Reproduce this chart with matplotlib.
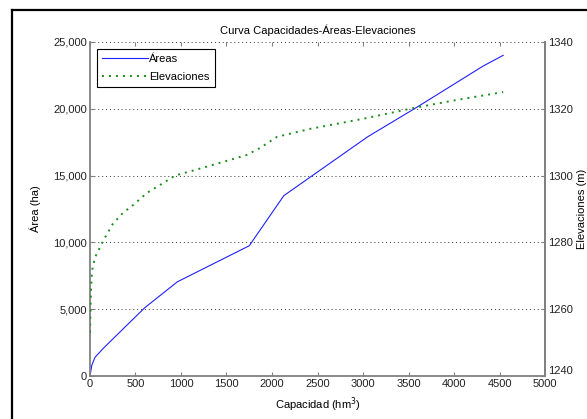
import matplotlib
matplotlib.use("Agg")
import matplotlib.pyplot as plt
from matplotlib.lines import Line2D
from matplotlib.ticker import FuncFormatter

plt.rcParams["font.family"] = ["Liberation Sans", "DejaVu Sans"]
plt.rcParams["font.size"] = 8

# capacity (hm3) vs flooded area (ha)
cap_area = [0, 20, 55, 150, 600, 960, 1750, 2130, 3050, 3600, 4320, 4540]
area = [0, 800, 1400, 2100, 5100, 7050, 9750, 13500, 17900, 20150, 23200, 24000]

# capacity (hm3) vs water elevation (m)
cap_elev = [0, 10, 22, 55, 110, 145, 250, 360, 475, 625, 770, 935, 1300,
            1725, 1870, 2055, 2420, 3000, 3550, 4000, 4540]
elev = [1253, 1265, 1271.5, 1275.5, 1278.5, 1280.5, 1285.5, 1288.8, 1291.2,
        1294.8, 1297.2, 1300, 1302.8, 1306.2, 1308.3, 1311.6, 1314, 1317,
        1320.2, 1322.5, 1325]

x_ticks = [0, 500, 1000, 1500, 2000, 2500, 3000, 3500, 4000, 4500, 5000]
area_ticks = [0, 5000, 10000, 15000, 20000, 25000]
elev_ticks = [1240, 1260, 1280, 1300, 1320, 1340]

spine_col = "#808080"

fig = plt.figure(figsize=(5.87, 4.19), dpi=100)
ax = fig.add_axes([0.1533, 0.1026, 0.7752, 0.7972])
ax2 = ax.twinx()

h1, = ax.plot(cap_area, area, color="#2020ff", lw=0.8)
h2, = ax2.plot(cap_elev, elev, color="#1a8c1a", lw=1.4, ls=(0, (1, 2.6)))

ax.set_xlim(0, 5000)
ax.set_ylim(0, 25000)
ax2.set_ylim(1240, 1340)
ax.set_xticks(x_ticks)
ax.set_yticks(area_ticks)
ax2.set_yticks(elev_ticks)
ax.yaxis.set_major_formatter(FuncFormatter(lambda v, p: f"{int(v):,}"))

ax.grid(True, axis="y", ls=(0, (1, 3)), color="#333333", lw=0.7)
ax.set_axisbelow(True)

for a in (ax, ax2):
    a.spines["top"].set_visible(False)
    for s in ("left", "right", "bottom"):
        a.spines[s].set_color(spine_col)
        a.spines[s].set_linewidth(1.3)
    a.tick_params(direction="in", length=3, width=0.8, color=spine_col,
                  labelsize=8, pad=2, labelcolor="#222222")
ax.tick_params(axis="x", top=True)
ax2.spines["left"].set_visible(False)
ax2.spines["bottom"].set_visible(False)

# lift the lowest elevation label so it clears the 5000 label
fig.canvas.draw()
ax2.get_yticklabels()[0].set_va("bottom")

ax.set_title("Curva Capacidades-Áreas-Elevaciones", fontsize=8, pad=6)
ax.set_xlabel("Capacidad (hm$^3$)", fontsize=8, labelpad=5)
ax.set_ylabel("Área (ha)", fontsize=8, labelpad=9)
ax2.set_ylabel("Elevaciones (m)", fontsize=8, rotation=90)
ax2.yaxis.set_label_coords(1.071, 0.5)

leg = ax.legend([h1, h2], ["Áreas", "Elevaciones"], loc="upper left",
                fontsize=8, fancybox=False, framealpha=1, edgecolor="black",
                handlelength=4.2, handletextpad=0.1, borderpad=0.45,
                labelspacing=0.75, borderaxespad=0.6)
leg.get_frame().set_linewidth(0.8)

# frame edges along the top and left of the figure
fig.add_artist(Line2D([12 / 587, 1], [1 - 10 / 419, 1 - 10 / 419],
                      transform=fig.transFigure, color="black", lw=1.6))
fig.add_artist(Line2D([12 / 587, 12 / 587], [0, 1 - 10 / 419],
                      transform=fig.transFigure, color="black", lw=1.6))

fig.savefig("out.png", dpi=100)
